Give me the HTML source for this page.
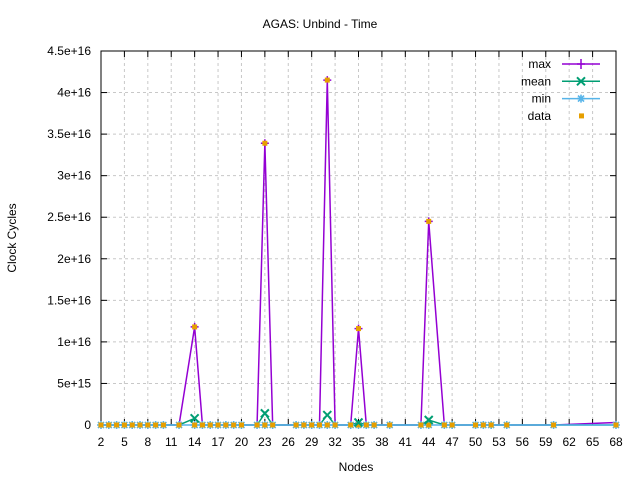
<!DOCTYPE html>
<html><head><meta charset="utf-8"><style>
body{margin:0;background:#fff;}
svg text{font-family:"Liberation Sans",sans-serif;font-size:12px;fill:#000;}
</style></head><body>
<svg id="s" width="640" height="480" xmlns="http://www.w3.org/2000/svg">
<rect width="640" height="480" fill="#fff"/>
<g id="grid" stroke="#c8c8c8" stroke-dasharray="3,3" stroke-width="1"></g>
<g id="ax"></g>
<g id="ser"></g>
<text x="320" y="28" text-anchor="middle">AGAS: Unbind - Time</text>
<text x="356" y="471" text-anchor="middle">Nodes</text>
<text transform="translate(16,238) rotate(-90)" text-anchor="middle">Clock Cycles</text>
<g id="leg"></g>
</svg>
<script>
const L=101,R=616,T=51,B=425;
const X=v=>L+(v-2)*(R-L)/66, Y=v=>B-v*(B-T)/4.5;
const NS="http://www.w3.org/2000/svg";
function el(p,t,a,txt){const e=document.createElementNS(NS,t);for(const k in a)e.setAttribute(k,a[k]);if(txt!==undefined)e.textContent=txt;document.getElementById(p).appendChild(e);return e;}
const yl=["0","5e+15","1e+16","1.5e+16","2e+16","2.5e+16","3e+16","3.5e+16","4e+16","4.5e+16"];
for(let i=0;i<10;i++){const y=Y(i*0.5);
 if(i>0&&i<9)el("grid","line",{x1:L,x2:R,y1:y,y2:y});
 el("ax","line",{x1:L,x2:L+6,y1:y,y2:y,stroke:"#000"});el("ax","line",{x1:R,x2:R-6,y1:y,y2:y,stroke:"#000"});
 el("ax","text",{x:L-10,y:y+4,"text-anchor":"end"},yl[i]);}
for(let v=2;v<=68;v+=3){const x=X(v);
 if(v>2&&v<68)el("grid","line",{x1:x,x2:x,y1:T,y2:B});
 el("ax","line",{x1:x,x2:x,y1:B,y2:B-6,stroke:"#000"});el("ax","line",{x1:x,x2:x,y1:T,y2:T+6,stroke:"#000"});
 el("ax","text",{x:x,y:B+21,"text-anchor":"middle"},v);}
el("ax","rect",{x:L,y:T,width:R-L,height:B-T,fill:"none",stroke:"#000"});
const xs=[2,3,4,5,6,7,8,9,10,12,14,15,16,17,18,19,20,22,23,24,27,28,29,30,31,32,34,35,36,37,39,43,44,46,47,50,51,52,54,60,68];
const pk={14:1.18,23:3.39,31:4.15,35:1.16,44:2.45}, mn={14:0.08,23:0.14,31:0.12,35:0.03,44:0.06};
const f=(m,v)=>(m[v]||0);
const mx=xs.map(v=>[X(v),Y(f(pk,v))]); mx[mx.length-1][1]=Y(0.03);
el("ser","polyline",{points:mx.map(p=>p.join(",")).join(" "),fill:"none",stroke:"#9400d3","stroke-width":1.5});
el("ser","polyline",{points:xs.map(v=>X(v)+","+Y(f(mn,v))).join(" "),fill:"none",stroke:"#009e73","stroke-width":1.5});
el("ser","polyline",{points:xs.map(v=>X(v)+","+Y(0)).join(" "),fill:"none",stroke:"#56b4e9","stroke-width":1.5});
xs.forEach(v=>{const x=X(v),y=Y(0);
 el("ser","path",{d:`M${x-4},${y}h8M${x},${y-4}v8M${x-3},${y-3}l6,6M${x-3},${y+3}l6,-6`,stroke:"#56b4e9","stroke-width":1.6});
 el("ser","rect",{x:x-2.5,y:y-2.5,width:5,height:5,fill:"#e69f00"});
 if(pk[v]){const yy=Y(pk[v]);el("ser","path",{d:`M${x-4},${yy}h8M${x},${yy-4}v8`,stroke:"#9400d3","stroke-width":1.5});el("ser","rect",{x:x-2.5,y:yy-2.5,width:5,height:5,fill:"#e69f00"});
  const ym=Y(mn[v]);el("ser","path",{d:`M${x-4},${ym-4}l8,8M${x-4},${ym+4}l8,-8`,stroke:"#009e73","stroke-width":2});}
});
const lg=[["max","#9400d3"],["mean","#009e73"],["min","#56b4e9"],["data",null]];
lg.forEach((l,i)=>{const y=64+i*17.3;
 el("leg","text",{x:551,y:y+4,"text-anchor":"end"},l[0]);
 if(l[1]){el("leg","line",{x1:562,x2:600,y1:y,y2:y,stroke:l[1],"stroke-width":1.5});}
 if(i==0)el("leg","path",{d:`M577,${y}h8M581,${y-5}v10`,stroke:l[1],"stroke-width":1.5});
 if(i==1)el("leg","path",{d:`M577,${y-4}l8,8M577,${y+4}l8,-8`,stroke:l[1],"stroke-width":2});
 if(i==2)el("leg","path",{d:`M577,${y}h8M581,${y-4}v8M578,${y-3}l6,6M578,${y+3}l6,-6`,stroke:l[1],"stroke-width":1.6});
 if(i==3)el("leg","rect",{x:579,y:y-2.5,width:5,height:5,fill:"#e69f00"});
});
</script>
</body></html>
